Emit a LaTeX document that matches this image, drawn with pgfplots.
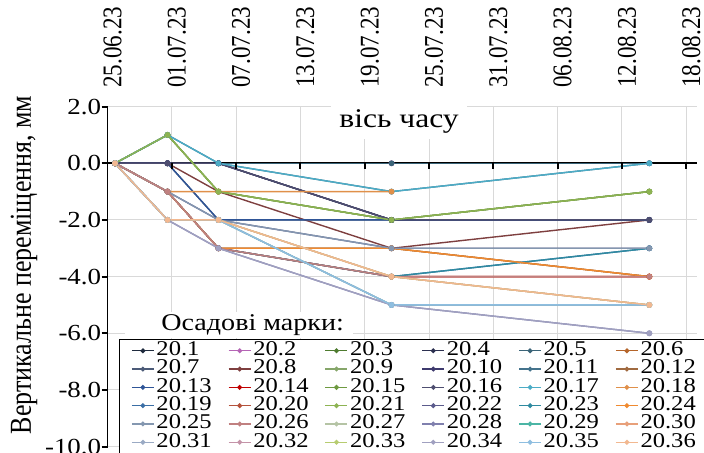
\documentclass[border=0pt]{standalone}
\usepackage{pgfplots}
\pgfplotsset{compat=1.18}
\usepackage{fontspec}
\setmainfont{Liberation Serif}[FakeStretch=1.17]
\newfontfamily\rotfont{Liberation Serif}[FakeStretch=0.855]
\definecolor{s1}{HTML}{1F2B3E}\definecolor{s2}{HTML}{B565B5}\definecolor{s3}{HTML}{4E7B2F}
\definecolor{s4}{HTML}{2C3050}\definecolor{s5}{HTML}{3B6478}\definecolor{s6}{HTML}{B5652A}
\definecolor{s7}{HTML}{4C5B78}\definecolor{s8}{HTML}{7E3F3F}\definecolor{s9}{HTML}{86A66A}
\definecolor{s10}{HTML}{3E3A6E}\definecolor{s11}{HTML}{44738C}\definecolor{s12}{HTML}{A06A40}
\definecolor{s13}{HTML}{2F5597}\definecolor{s14}{HTML}{C00000}\definecolor{s15}{HTML}{6E9A40}
\definecolor{s16}{HTML}{4E4E70}\definecolor{s17}{HTML}{4BACC6}\definecolor{s18}{HTML}{E0904A}
\definecolor{s19}{HTML}{3A6EA5}\definecolor{s20}{HTML}{B5523B}\definecolor{s21}{HTML}{8DB352}
\definecolor{s22}{HTML}{5B5B8C}\definecolor{s23}{HTML}{2E8AA0}\definecolor{s24}{HTML}{F08A30}
\definecolor{s25}{HTML}{8497B0}\definecolor{s26}{HTML}{C08080}\definecolor{s27}{HTML}{B5C4A5}
\definecolor{s28}{HTML}{8080AE}\definecolor{s29}{HTML}{4BB5A5}\definecolor{s30}{HTML}{E8A07A}
\definecolor{s31}{HTML}{9AAAC4}\definecolor{s32}{HTML}{C493A8}\definecolor{s33}{HTML}{B7CC70}
\definecolor{s34}{HTML}{A0A0C0}\definecolor{s35}{HTML}{8EBEE0}\definecolor{s36}{HTML}{F2B890}
\newcommand\lgE[1]{\makebox[36.8pt][l]{\hspace{1pt}#1}}
\newcommand\lgL[1]{\makebox[31.2pt][l]{\hspace{1pt}#1}}
\pgfplotsset{ser/.style={color=#1, mark=*, mark size=1.1pt, line width=0.7pt, mark options={solid}}}
\begin{document}
\begin{tikzpicture}
\begin{axis}[
  at={(53.75pt,2.7pt)}, anchor=south west,
  scale only axis, width=294.75pt, height=170pt,
  xmin=0, xmax=55, ymin=-10, ymax=2,
  axis x line*=top, axis y line*=left,
  x axis line style={draw=none},
  y axis line style={black, line width=0.9pt},
  xtick={0,6,...,54},
  xticklabels={25.06.23,01.07.23,07.07.23,13.07.23,19.07.23,25.07.23,31.07.23,06.08.23,12.08.23,18.08.23},
  xticklabel style={xshift=2.5pt, rotate=90, anchor=west, font=\rotfont\fontsize{13.5}{14}\selectfont, inner sep=0pt},
  xticklabel shift=9.3pt,
  x tick style={draw=none},
  ytick={-10,-8,...,2},
  yticklabels={-10.0,-8.0,-6.0,-4.0,-2.0,0.0,2.0},
  yticklabel style={font=\fontsize{11.5}{12}\selectfont, inner sep=0pt, anchor=east},
  y tick style={black, line width=0.9pt},
  ytick align=outside, major tick length=3pt,
  grid=major, grid style={draw=black!15, line width=0.5pt},
  extra y ticks={0}, extra y tick labels={},
  extra y tick style={grid=major, grid style={black, line width=1pt}, major tick length=0pt},
  legend columns=6,
  legend style={at={(axis description cs:0.02,0.3165)}, anchor=north west,
    draw=black, line width=0.6pt, fill=white, inner xsep=5.7pt, inner ysep=1pt,
    font=\fontsize{10.5}{10.5}\selectfont,
    nodes={inner sep=0pt, text height=7.0pt, text depth=2.15pt}},
  legend cell align=left,
  legend image code/.code={\draw[#1, line width=0.6pt, mark size=0.9pt, mark repeat=2, mark phase=2] plot coordinates {(0pt,0pt) (5.5pt,0pt) (11pt,0pt)};},
]
\addplot[ser=s1] coordinates {(0.7,0) (5.6,0) (10.35,0) (26.5,-2) (50.55,-2)}; \addlegendentry{\lgE{20.1}}
\addplot[ser=s2] coordinates {(0.7,0) (5.6,0) (10.35,0) (26.5,0) (50.55,0)}; \addlegendentry{\lgE{20.2}}
\addplot[ser=s3] coordinates {(0.7,0) (5.6,1) (10.35,-1) (26.5,-2) (50.55,-1)}; \addlegendentry{\lgE{20.3}}
\addplot[ser=s4] coordinates {(0.7,0) (5.6,0) (10.35,0) (26.5,-2) (50.55,-2)}; \addlegendentry{\lgE{20.4}}
\addplot[ser=s5] coordinates {(0.7,0) (5.6,0) (10.35,0) (26.5,0) (50.55,0)}; \addlegendentry{\lgE{20.5}}
\addplot[ser=s6] coordinates {(0.7,0) (5.6,-1) (10.35,-3) (26.5,-3) (50.55,-4)}; \addlegendentry{\lgL{20.6}}
\addplot[ser=s7] coordinates {(0.7,0) (5.6,0) (10.35,-2) (26.5,-2) (50.55,-2)}; \addlegendentry{\lgE{20.7}}
\addplot[ser=s8] coordinates {(0.7,0) (5.6,0) (10.35,-1) (26.5,-3) (50.55,-2)}; \addlegendentry{\lgE{20.8}}
\addplot[ser=s9] coordinates {(0.7,0) (5.6,1) (10.35,-1) (26.5,-2) (50.55,-1)}; \addlegendentry{\lgE{20.9}}
\addplot[ser=s10] coordinates {(0.7,0) (5.6,0) (10.35,0) (26.5,-2) (50.55,-2)}; \addlegendentry{\lgE{20.10}}
\addplot[ser=s11] coordinates {(0.7,0) (5.6,1) (10.35,0) (26.5,-1) (50.55,0)}; \addlegendentry{\lgE{20.11}}
\addplot[ser=s12] coordinates {(0.7,0) (5.6,-1) (10.35,-3) (26.5,-3) (50.55,-4)}; \addlegendentry{\lgL{20.12}}
\addplot[ser=s13] coordinates {(0.7,0) (5.6,0) (10.35,-2) (26.5,-2) (50.55,-2)}; \addlegendentry{\lgE{20.13}}
\addplot[ser=s14] coordinates {(0.7,0) (5.6,-1) (10.35,-3) (26.5,-4) (50.55,-4)}; \addlegendentry{\lgE{20.14}}
\addplot[ser=s15] coordinates {(0.7,0) (5.6,1) (10.35,-1) (26.5,-2) (50.55,-1)}; \addlegendentry{\lgE{20.15}}
\addplot[ser=s16] coordinates {(0.7,0) (5.6,0) (10.35,0) (26.5,-2) (50.55,-2)}; \addlegendentry{\lgE{20.16}}
\addplot[ser=s17] coordinates {(0.7,0) (5.6,1) (10.35,0) (26.5,-1) (50.55,0)}; \addlegendentry{\lgE{20.17}}
\addplot[ser=s18] coordinates {(0.7,0) (5.6,-1) (10.35,-1) (26.5,-1)}; \addlegendentry{\lgL{20.18}}
\addplot[ser=s19] coordinates {(0.7,0) (5.6,-1) (10.35,-3) (26.5,-4) (50.55,-3)}; \addlegendentry{\lgE{20.19}}
\addplot[ser=s20] coordinates {(0.7,0) (5.6,-1) (10.35,-3) (26.5,-4) (50.55,-4)}; \addlegendentry{\lgE{20.20}}
\addplot[ser=s21] coordinates {(0.7,0) (5.6,1) (10.35,-1) (26.5,-2) (50.55,-1)}; \addlegendentry{\lgE{20.21}}
\addplot[ser=s22] coordinates {(0.7,0) (5.6,-1) (10.35,-2) (26.5,-3) (50.55,-3)}; \addlegendentry{\lgE{20.22}}
\addplot[ser=s23] coordinates {(0.7,0) (5.6,-1) (10.35,-3) (26.5,-4) (50.55,-3)}; \addlegendentry{\lgE{20.23}}
\addplot[ser=s24] coordinates {(0.7,0) (5.6,-1) (10.35,-3) (26.5,-3) (50.55,-4)}; \addlegendentry{\lgL{20.24}}
\addplot[ser=s25] coordinates {(0.7,0) (5.6,-1) (10.35,-2) (26.5,-3) (50.55,-3)}; \addlegendentry{\lgE{20.25}}
\addplot[ser=s26] coordinates {(0.7,0) (5.6,-1) (10.35,-3) (26.5,-4) (50.55,-4)}; \addlegendentry{\lgE{20.26}}
\addplot[ser=s27] coordinates {(0.7,0) (5.6,-2) (10.35,-2) (26.5,-5) (50.55,-5)}; \addlegendentry{\lgE{20.27}}
\addplot[ser=s28] coordinates {(0.7,0) (5.6,-2) (10.35,-3) (26.5,-5) (50.55,-6)}; \addlegendentry{\lgE{20.28}}
\addplot[ser=s29] coordinates {(0.7,0) (5.6,-2) (10.35,-2) (26.5,-5) (50.55,-5)}; \addlegendentry{\lgE{20.29}}
\addplot[ser=s30] coordinates {(0.7,0) (5.6,-2) (10.35,-2) (26.5,-4) (50.55,-5)}; \addlegendentry{\lgL{20.30}}
\addplot[ser=s31] coordinates {(0.7,0) (5.6,-2) (10.35,-2) (26.5,-5) (50.55,-5)}; \addlegendentry{\lgE{20.31}}
\addplot[ser=s32] coordinates {(0.7,0) (5.6,-2) (10.35,-2) (26.5,-4) (50.55,-5)}; \addlegendentry{\lgE{20.32}}
\addplot[ser=s33] coordinates {(0.7,0) (5.6,-2) (10.35,-2) (26.5,-4) (50.55,-5)}; \addlegendentry{\lgE{20.33}}
\addplot[ser=s34] coordinates {(0.7,0) (5.6,-2) (10.35,-3) (26.5,-5) (50.55,-6)}; \addlegendentry{\lgE{20.34}}
\addplot[ser=s35] coordinates {(0.7,0) (5.6,-2) (10.35,-2) (26.5,-5) (50.55,-5)}; \addlegendentry{\lgE{20.35}}
\addplot[ser=s36] coordinates {(0.7,0) (5.6,-2) (10.35,-2) (26.5,-4) (50.55,-5)}; \addlegendentry{\lgL{20.36}}
\end{axis}
% zero-line tick marks
\begin{axis}[
  at={(53.75pt,144.37pt)}, anchor=south west,
  scale only axis, width=294.75pt, height=10pt,
  xmin=0, xmax=55, ymin=0, ymax=1,
  axis x line*=bottom, axis y line=none,
  x axis line style={draw=none},
  xtick={6,12,...,54}, xticklabels={},
  xtick align=outside, major tick length=2.8pt,
  x tick style={black, line width=1pt},
]
\end{axis}
\node[fill=white, inner xsep=4pt, inner ysep=3pt, minimum height=15.5pt, font=\fontsize{13.5}{14}\selectfont] at (199.5pt,165.3pt) {вісь часу};
\fill[white] (62.5pt,57pt) rectangle (176.5pt,70pt);
\node[anchor=base west, inner sep=0pt, font=\fontsize{12}{13}\selectfont] at (80.5pt,61pt) {Осадові марки:};
\node[rotate=90, inner sep=0pt, font=\rotfont\fontsize{15.2}{16}\selectfont] at (12pt,93.5pt) {Вертикальне переміщення, мм};
\pgfresetboundingbox
\useasboundingbox (0,0) rectangle (352pt,226pt);
\end{tikzpicture}
\end{document}
